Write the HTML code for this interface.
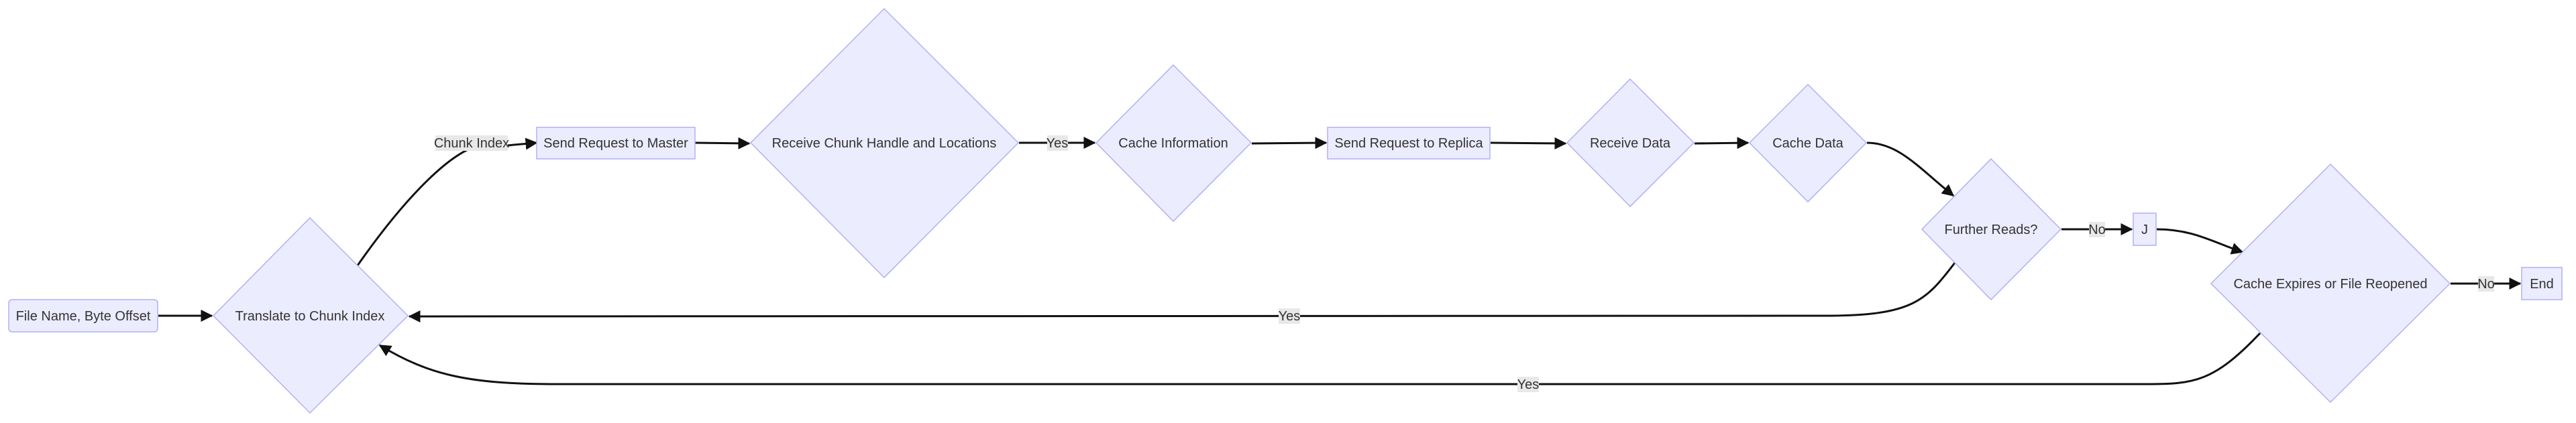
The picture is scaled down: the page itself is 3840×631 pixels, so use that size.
<!DOCTYPE html>
<html><head><meta charset="utf-8"><style>
html,body{margin:0;padding:0;background:#fff;}
svg{display:block;}
text{font-family:"Liberation Sans",Arial,sans-serif;font-size:20px;fill:#333;}
.n{fill:#ECECFF;stroke:#b0b0f5;stroke-width:1.5;}
.e{fill:none;stroke:#111;stroke-width:3;}
.lb{fill:#e8e8e8;}
</style></head><body>
<svg width="3840" height="631" viewBox="0 0 3840 631" xmlns="http://www.w3.org/2000/svg">
<defs>
<marker id="a" viewBox="0 0 10 10" refX="9" refY="5" markerWidth="8" markerHeight="8" markerUnits="userSpaceOnUse" orient="auto">
</marker>
<marker id="ah" viewBox="0 0 12 12" refX="11" refY="6" markerWidth="18" markerHeight="18" markerUnits="userSpaceOnUse" orient="auto"><path d="M0,0 L12,6 L0,12 z" fill="#111"/></marker>
</defs>

<!-- edges -->
<path class="e" d="M236,471 L316,471" marker-end="url(#ah)"/>
<path class="e" d="M533,396 C600,300 660,240 700,222 L800,213" marker-end="url(#ah)"/>
<path class="e" d="M1036,213 L1117,214" marker-end="url(#ah)"/>
<path class="e" d="M1519,213 L1632,213" marker-end="url(#ah)"/>
<path class="e" d="M1866,214 L1977,213" marker-end="url(#ah)"/>
<path class="e" d="M2222,213 L2334,214" marker-end="url(#ah)"/>
<path class="e" d="M2526,214 L2606,213" marker-end="url(#ah)"/>
<path class="e" d="M2783,213 C2830,213 2860,250 2912,292" marker-end="url(#ah)"/>
<path class="e" d="M3073,342 L3178,342" marker-end="url(#ah)"/>
<path class="e" d="M3215,342 C3270,342 3300,362 3343,376" marker-end="url(#ah)"/>
<path class="e" d="M3653,423 L3757,423" marker-end="url(#ah)"/>
<path class="e" d="M2914,392 C2870,450 2850,471 2720,471 L610,472" marker-end="url(#ah)"/>
<path class="e" d="M3369,497 C3300,570 3270,573 3200,573 L830,573 C700,573 640,560 566,515" marker-end="url(#ah)"/>

<!-- edge labels -->
<rect class="lb" x="649" y="202" width="108" height="23"/><text x="703" y="220" text-anchor="middle">Chunk Index</text>
<rect class="lb" x="1561" y="202" width="31" height="23"/><text x="1576" y="220" text-anchor="middle">Yes</text>
<rect class="lb" x="1906" y="460" width="32" height="23"/><text x="1922" y="478" text-anchor="middle">Yes</text>
<rect class="lb" x="2262" y="562" width="32" height="23"/><text x="2278" y="580" text-anchor="middle">Yes</text>
<rect class="lb" x="3114" y="331" width="24" height="23"/><text x="3126" y="349" text-anchor="middle">No</text>
<rect class="lb" x="3694" y="412" width="24" height="23"/><text x="3706" y="430" text-anchor="middle">No</text>

<!-- nodes -->
<rect class="n" x="13" y="447" width="222" height="48" rx="5"/><text x="124" y="478" text-anchor="middle">File Name, Byte Offset</text>
<polygon class="n" points="462,325 608,471 462,616 318,471"/><text x="462" y="478" text-anchor="middle">Translate to Chunk Index</text>
<rect class="n" x="800" y="190" width="236" height="47"/><text x="918" y="220" text-anchor="middle">Send Request to Master</text>
<polygon class="n" points="1318,13 1518,213 1318,414 1119,213"/><text x="1318" y="220" text-anchor="middle">Receive Chunk Handle and Locations</text>
<polygon class="n" points="1749,97 1865,213 1749,330 1634,213"/><text x="1749" y="220" text-anchor="middle">Cache Information</text>
<rect class="n" x="1979" y="190" width="242" height="47"/><text x="2100" y="220" text-anchor="middle">Send Request to Replica</text>
<polygon class="n" points="2430,118 2525,213 2430,308 2336,213"/><text x="2430" y="220" text-anchor="middle">Receive Data</text>
<polygon class="n" points="2695,126 2782,213 2695,301 2608,213"/><text x="2695" y="220" text-anchor="middle">Cache Data</text>
<polygon class="n" points="2968,237 3072,342 2968,447 2865,342"/><text x="2968" y="349" text-anchor="middle">Further Reads?</text>
<rect class="n" x="3180" y="318" width="34" height="48"/><text x="3197" y="349" text-anchor="middle">J</text>
<polygon class="n" points="3474,245 3652,423 3474,600 3296,423"/><text x="3474" y="430" text-anchor="middle">Cache Expires or File Reopened</text>
<rect class="n" x="3759" y="399" width="60" height="48"/><text x="3789" y="430" text-anchor="middle">End</text>
</svg>
</body></html>
